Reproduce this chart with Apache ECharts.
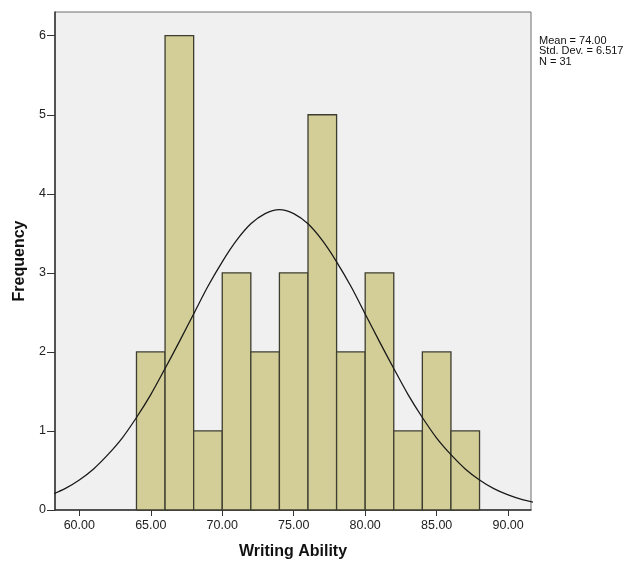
<!DOCTYPE html>
<html>
<head>
<meta charset="utf-8">
<script src="https://cdn.jsdelivr.net/npm/echarts@6/dist/echarts.min.js"></script>
<style>
  html, body { margin: 0; padding: 0; background: #fff; }
  #chart { width: 634px; height: 563px; }
</style>
</head>
<body>
<div id="chart"></div>
<script>
// histogram bins (lower edge, upper edge) and counts
const binStart = [64, 66, 68, 70, 72, 74, 76, 78, 80, 82, 84, 86]
const binEnd = [66, 68, 70, 72, 74, 76, 78, 80, 82, 84, 86, 88]
const counts = [2, 6, 1, 3, 2, 3, 5, 2, 3, 1, 2, 1]

// normal curve
const curveX = [58, 59, 60, 61, 62, 63, 64, 65, 66, 67, 68, 69, 70, 71, 72, 73, 74,
  75, 76, 77, 78, 79, 80, 81, 82, 83, 84, 85, 86, 87, 88, 89, 90, 91, 92]
const curveY = [0.19, 0.27, 0.38, 0.52, 0.70, 0.91, 1.17, 1.46, 1.79, 2.13, 2.48, 2.83,
  3.14, 3.41, 3.62, 3.75, 3.80, 3.75, 3.62, 3.41, 3.14, 2.83, 2.48, 2.13, 1.79, 1.46,
  1.17, 0.91, 0.70, 0.52, 0.38, 0.27, 0.19, 0.13, 0.09]

const xTicks = [60, 65, 70, 75, 80, 85, 90]
const yTicks = [0, 1, 2, 3, 4, 5, 6]
const statsLines = ['Mean = 74.00', 'Std. Dev. = 6.517', 'N = 31']

const chart = echarts.init(document.getElementById('chart'))

const font = "'Liberation Sans', Arial, sans-serif"

chart.setOption({
  animation: false,
  backgroundColor: '#fff',
  grid: {
    left: 55, right: 103, top: 12, bottom: 53,
    outerBoundsMode: 'none',
    show: true, backgroundColor: '#f0f0f0', borderColor: '#6e6e6e', borderWidth: 1
  },
  xAxis: {
    type: 'value', min: 58.3, max: 91.6,
    name: 'Writing Ability', nameLocation: 'middle', nameGap: 34,
    nameTextStyle: { fontFamily: font, fontWeight: 'bold', fontSize: 16, color: '#111' },
    splitLine: { show: false },
    axisLine: { lineStyle: { color: '#333', width: 1.5 } },
    axisTick: { customValues: xTicks, length: 6, lineStyle: { color: '#333' } },
    axisLabel: {
      customValues: xTicks, margin: 9,
      fontFamily: font, fontSize: 12.5, color: '#222',
      formatter: (v) => v.toFixed(2)
    }
  },
  yAxis: {
    type: 'value', min: 0, max: 6.3,
    name: 'Frequency', nameLocation: 'middle', nameGap: 27, nameRotate: 90,
    nameTextStyle: { fontFamily: font, fontWeight: 'bold', fontSize: 16, color: '#111' },
    splitLine: { show: false },
    axisLine: { show: true, lineStyle: { color: '#333', width: 1.5 } },
    axisTick: { show: true, customValues: yTicks, length: 8, lineStyle: { color: '#333' } },
    axisLabel: { customValues: yTicks, margin: 9, fontFamily: font, fontSize: 12.5, color: '#222' }
  },
  graphic: [{
    type: 'text', left: 539, top: 35,
    style: {
      text: statsLines.join('\n'), fontFamily: font, fontSize: 11,
      lineHeight: 10.5, fill: '#111'
    }
  }],
  series: [
    {
      type: 'custom',
      data: binStart.map((s, i) => [s, binEnd[i], counts[i]]),
      encode: { x: [0, 1], y: 2 },
      renderItem: (params, api) => {
        const p0 = api.coord([api.value(0), 0])
        const p1 = api.coord([api.value(1), api.value(2)])
        return {
          type: 'rect',
          shape: { x: p0[0], y: p1[1], width: p1[0] - p0[0], height: p0[1] - p1[1] },
          style: { fill: '#d3ce97', stroke: '#3d3d30', lineWidth: 1.3 }
        }
      },
      z: 2
    },
    {
      type: 'line',
      data: curveX.map((x, i) => [x, curveY[i]]),
      smooth: 0.3,
      showSymbol: false,
      clip: true,
      lineStyle: { color: '#1a1a1a', width: 1.3 },
      z: 3
    }
  ]
})
</script>
</body>
</html>
